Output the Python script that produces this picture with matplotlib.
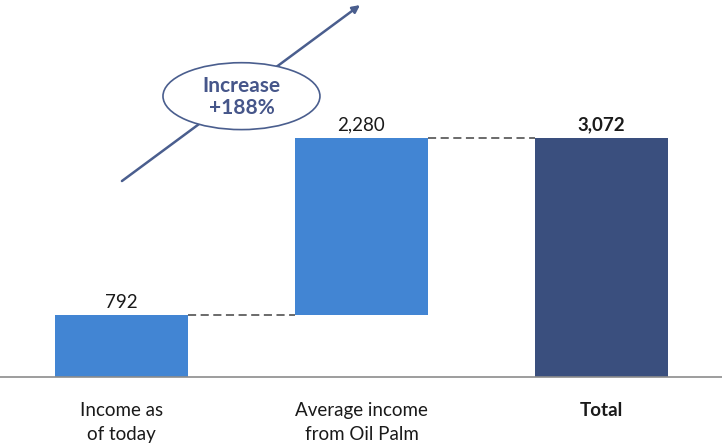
import matplotlib
matplotlib.use("Agg")
import matplotlib.pyplot as plt
from matplotlib.patches import Ellipse

# data
categories = ["Income as\nof today", "Average income\nfrom Oil Palm", "Total"]
values = [792, 2280, 3072]
value_labels = ["792", "2,280", "3,072"]
increase_text = "Increase\n+188%"

plt.rcParams['font.family'] = ['Lato', 'DejaVu Sans']

light_blue = '#4285D3'
dark_blue = '#3A4F7E'
accent = '#4A5E8E'

# waterfall bottoms: first from 0, step on top of previous, total from 0
bottoms = [0, values[0], 0]
colors = [light_blue, light_blue, dark_blue]
x = list(range(len(values)))
width = 0.555

fig = plt.figure(figsize=(7.22, 4.43), dpi=100)
ax = fig.add_axes([0, 0.149, 1, 0.851])

bars = ax.bar(x, values, width=width, bottom=bottoms, color=colors, zorder=2)

# value labels
for i, b in enumerate(bars):
    top = b.get_y() + b.get_height()
    ax.text(b.get_x() + b.get_width() / 2, top + 60, value_labels[i],
            ha='center', va='bottom', fontsize=13.5, color='#1a1a1a',
            fontweight='bold' if i == 2 else 'normal')

# dashed connectors
tops = [bottoms[i] + values[i] for i in range(len(values))]
for i in range(len(values) - 1):
    ax.plot([x[i] + width / 2, x[i + 1] - width / 2], [tops[i], tops[i]],
            ls=(0, (4.5, 2.5)), color='#5f5f5f', lw=1.3, zorder=1)

# increase arrow with ellipse
ax.annotate('', xy=(0.994, 4781), xytext=(0.002, 2519),
            arrowprops=dict(arrowstyle='-|>', color=accent, lw=1.8,
                            mutation_scale=11, shrinkA=0, shrinkB=0), zorder=3)
ell = Ellipse((0.5, 3610), 0.654, 860, facecolor='white', edgecolor=accent,
              lw=1.2, zorder=4)
ax.add_patch(ell)
ax.text(0.5, 3600, increase_text, ha='center', va='center', fontsize=15,
        fontweight='bold', color='#46568A', linespacing=1.15, zorder=5)

ax.set_xlim(-0.506, 2.502)
ax.set_ylim(0, 4846)
ax.set_yticks([])
ax.set_xticks(x)
ax.set_xticklabels(categories, fontsize=13.5, color='#1a1a1a', linespacing=1.5)
ax.get_xticklabels()[2].set_fontweight('bold')
ax.tick_params(axis='x', length=0, pad=18)
for s in ['top', 'right', 'left']:
    ax.spines[s].set_visible(False)
ax.spines['bottom'].set_color('#8C8C8C')
ax.spines['bottom'].set_linewidth(1.2)
ax.patch.set_alpha(0)

fig.savefig('out.png', dpi=100)
